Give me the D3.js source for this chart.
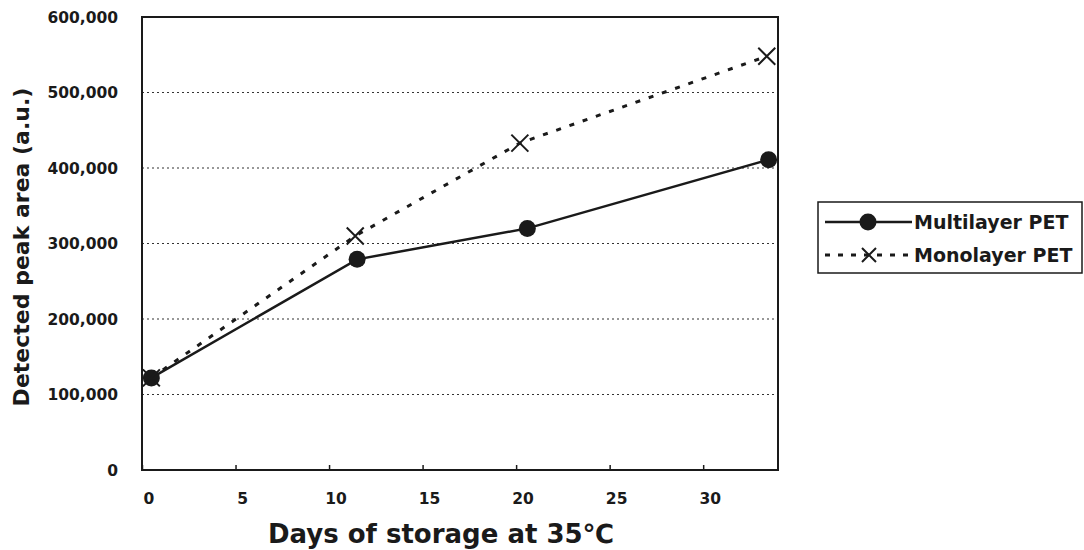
<!DOCTYPE html>
<html>
<head>
<meta charset="utf-8">
<script src="https://cdn.jsdelivr.net/npm/d3@7/dist/d3.min.js"></script>
<style>
  body { margin: 0; background: #fff; }
  text { font-family: "DejaVu Sans", sans-serif; font-weight: bold; fill: #1a1a1a; }
</style>
</head>
<body>
<div id="chart"></div>
<script>
const seriesNames = ['Multilayer PET', 'Monolayer PET']
const multiDays = [0.5, 11.5, 20.6, 33.5]
const multiValues = [122000, 279000, 320000, 411000]
const monoDays = [0.5, 11.4, 20.2, 33.4]
const monoValues = [122000, 310000, 433000, 548000]
const xTicks = [0, 5, 10, 15, 20, 25, 30]
const yTicks = [0, 100000, 200000, 300000, 400000, 500000, 600000]

const width = 1084, height = 550
const margin = {left: 142, right: 306, top: 17, bottom: 80}
const ink = '#1a1a1a'

const svg = d3.select('#chart').append('svg')
	.attr('width', width)
	.attr('height', height)

const x = d3.scaleLinear().domain([0, 34]).range([margin.left, width - margin.right])
const y = d3.scaleLinear().domain([0, 600000]).range([height - margin.bottom, margin.top])

// dotted gridlines
svg.append('g')
	.selectAll('line')
	.data(yTicks.filter(d => d > 0 && d < 600000))
	.enter().append('line')
		.attr('x1', x(0)).attr('x2', x(34))
		.attr('y1', d => y(d)).attr('y2', d => y(d))
		.attr('stroke', '#333')
		.attr('stroke-width', 1.2)
		.attr('stroke-dasharray', '2,3')

// x axis with inward ticks
const xAxis = svg.append('g')
	.attr('transform', `translate(0,${y(0)})`)
	.call(d3.axisTop(x).tickValues(xTicks).tickSize(5).tickFormat(''))
xAxis.select('.domain').remove()
xAxis.selectAll('line').attr('stroke', ink).attr('stroke-width', 1.5)

svg.append('g')
	.selectAll('text')
	.data(xTicks)
	.enter().append('text')
		.attr('x', d => x(d) + 7)
		.attr('y', y(0) + 34)
		.attr('text-anchor', 'middle')
		.attr('font-size', 15.5)
		.text(d => d)

// y axis labels
const fmt = d3.format(',')
svg.append('g')
	.selectAll('text')
	.data(yTicks)
	.enter().append('text')
		.attr('x', 118)
		.attr('y', d => y(d) + 5.5)
		.attr('text-anchor', 'end')
		.attr('font-size', 15.5)
		.text(d => fmt(d))

// frame
svg.append('rect')
	.attr('x', x(0)).attr('y', y(600000))
	.attr('width', x(34) - x(0))
	.attr('height', y(0) - y(600000))
	.attr('fill', 'none')
	.attr('stroke', ink)
	.attr('stroke-width', 2)

const line = d3.line().x(d => x(d[0])).y(d => y(d[1]))
const multi = multiDays.map((d, i) => [d, multiValues[i]])
const mono = monoDays.map((d, i) => [d, monoValues[i]])

svg.append('path')
	.attr('d', line(mono))
	.attr('fill', 'none')
	.attr('stroke', ink)
	.attr('stroke-width', 3)
	.attr('stroke-dasharray', '5,9')

svg.append('path')
	.attr('d', line(multi))
	.attr('fill', 'none')
	.attr('stroke', ink)
	.attr('stroke-width', 2.5)

function cross(g, cx, cy, s) {
	g.append('path')
		.attr('d', `M${cx - s},${cy - s}L${cx + s},${cy + s}M${cx - s},${cy + s}L${cx + s},${cy - s}`)
		.attr('stroke', ink)
		.attr('stroke-width', 2)
		.attr('fill', 'none')
}

svg.append('g')
	.selectAll('circle')
	.data(multi)
	.enter().append('circle')
		.attr('cx', d => x(d[0]))
		.attr('cy', d => y(d[1]))
		.attr('r', 8.5)
		.attr('fill', ink)

const crosses = svg.append('g')
mono.forEach(d => cross(crosses, x(d[0]), y(d[1]), 8.5))

// legend
const legend = svg.append('g')
legend.append('rect')
	.attr('x', 818).attr('y', 202)
	.attr('width', 264).attr('height', 71)
	.attr('fill', '#fff')
	.attr('stroke', ink)
	.attr('stroke-width', 1.5)

legend.append('line')
	.attr('x1', 825).attr('x2', 912).attr('y1', 222).attr('y2', 222)
	.attr('stroke', ink).attr('stroke-width', 2.5)
legend.append('circle')
	.attr('cx', 868).attr('cy', 222).attr('r', 8.5).attr('fill', ink)
legend.append('line')
	.attr('x1', 825).attr('x2', 912).attr('y1', 255).attr('y2', 255)
	.attr('stroke', ink).attr('stroke-width', 3).attr('stroke-dasharray', '5,8')
cross(legend, 869, 255, 7)

legend.selectAll('text.label')
	.data(seriesNames)
	.enter().append('text')
		.attr('class', 'label')
		.attr('x', 914)
		.attr('y', (d, i) => 229 + i * 33)
		.attr('font-size', 19)
		.text(d => d)

// axis titles
svg.append('text')
	.attr('x', 441)
	.attr('y', 543)
	.attr('text-anchor', 'middle')
	.attr('font-size', 26)
	.text('Days of storage at 35℃')

svg.append('text')
	.attr('transform', 'translate(29,247) rotate(-90)')
	.attr('text-anchor', 'middle')
	.attr('font-size', 22)
	.text('Detected peak area (a.u.)')
</script>
</body>
</html>
